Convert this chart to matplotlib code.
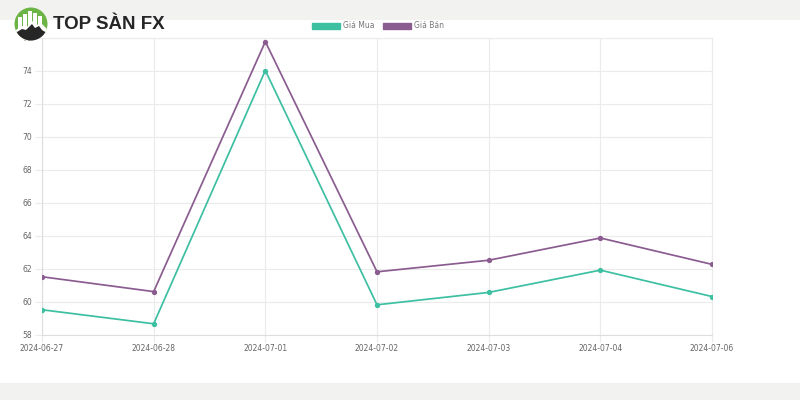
import matplotlib
matplotlib.use("Agg")
import matplotlib.pyplot as plt
from matplotlib.patches import Circle, Rectangle, Polygon

dates = ["2024-06-27", "2024-06-28", "2024-07-01", "2024-07-02", "2024-07-03", "2024-07-04", "2024-07-06"]
gia_mua = [59.5, 58.65, 74.0, 59.8, 60.55, 61.9, 60.3]
gia_ban = [61.5, 60.6, 75.75, 61.8, 62.5, 63.85, 62.25]
y_ticks = [58, 60, 62, 64, 66, 68, 70, 72, 74, 76]

TEAL = "#3dbfa2"
PURPLE = "#8a5c90"
GRID = "#ebebeb"
TXT = "#666666"
BAND = "#f2f2f0"

fig = plt.figure(figsize=(8, 4), dpi=100)
fig.patch.set_facecolor("white")

# background bands (pixel coordinates)
bg = fig.add_axes([0, 0, 1, 1], zorder=0)
bg.set_xlim(0, 800)
bg.set_ylim(400, 0)
bg.axis("off")
bg.add_patch(Rectangle((0, 0), 800, 20, color=BAND, lw=0))
bg.add_patch(Rectangle((0, 383), 800, 17, color=BAND, lw=0))

ax = fig.add_axes([42 / 800, 1 - 334.5 / 400, (712 - 42) / 800, (334.5 - 37.5) / 400], zorder=1)
ax.patch.set_alpha(0)
x = list(range(len(dates)))
ax.plot(x, gia_mua, color=TEAL, lw=1.25, marker="o", ms=2.8, label="Giá Mua", zorder=3)
ax.plot(x, gia_ban, color=PURPLE, lw=1.25, marker="o", ms=2.8, label="Giá Bán", zorder=3)
ax.set_xlim(0, len(dates) - 1)
ax.set_ylim(58, 76)
ax.set_xticks(x)
ax.set_xticklabels(dates)
ax.set_yticks(y_ticks)
ax.grid(True, color=GRID, lw=0.8)
for s in ["top", "right"]:
    ax.spines[s].set_color(GRID)
    ax.spines[s].set_linewidth(0.8)
for s in ["left", "bottom"]:
    ax.spines[s].set_color("#dddddd")
    ax.spines[s].set_linewidth(0.8)
ax.tick_params(axis="both", colors=GRID, labelcolor=TXT, labelsize=5.5, length=5, width=0.8)
ax.tick_params(axis="y", pad=2)
ax.tick_params(axis="x", pad=2)

# legend
leg = fig.legend(
    handles=[Rectangle((0, 0), 1, 1, color=TEAL), Rectangle((0, 0), 1, 1, color=PURPLE)],
    labels=["Giá Mua", "Giá Bán"],
    loc="center", bbox_to_anchor=(378 / 800, 1 - 26 / 400), ncol=2, frameon=False,
    fontsize=5.5, handlelength=3.6, handleheight=0.9, handletextpad=0.4, columnspacing=1.2,
)
for t in leg.get_texts():
    t.set_color("#777777")

# logo overlay
lg = fig.add_axes([0, 0, 1, 1], zorder=5)
lg.set_xlim(0, 800)
lg.set_ylim(400, 0)
lg.axis("off")
cx, cy, r = 31, 24, 16.5
circ = Circle((cx, cy), r, color="#6cb446", lw=0)
lg.add_patch(circ)
for bx, btop in [(20, 17), (25, 14), (30, 11), (35, 13), (40, 16)]:
    bar = Rectangle((bx - 1.6, btop), 3.2, 30 - btop, color="white", lw=0)
    lg.add_patch(bar)
    bar.set_clip_path(circ)
snow = Polygon([(12, 38), (16, 30), (22, 26), (27, 27), (32, 21), (37, 25), (41, 23), (50, 32), (50, 44), (12, 44)],
               closed=True, color="white", lw=0)
lg.add_patch(snow)
snow.set_clip_path(circ)
mtn = Polygon([(12, 42), (17, 32), (22, 29), (26, 30), (32, 24), (35, 28), (39, 26), (42, 30), (50, 35), (50, 44), (12, 44)],
              closed=True, color="#262626", lw=0)
lg.add_patch(mtn)
mtn.set_clip_path(circ)
lg.text(53, 24.5, "TOP SÀN FX", fontsize=13.5, fontweight="bold", color="#262626",
        va="center", ha="left", family=["Liberation Sans", "DejaVu Sans"])

fig.savefig("out.png", dpi=100)
